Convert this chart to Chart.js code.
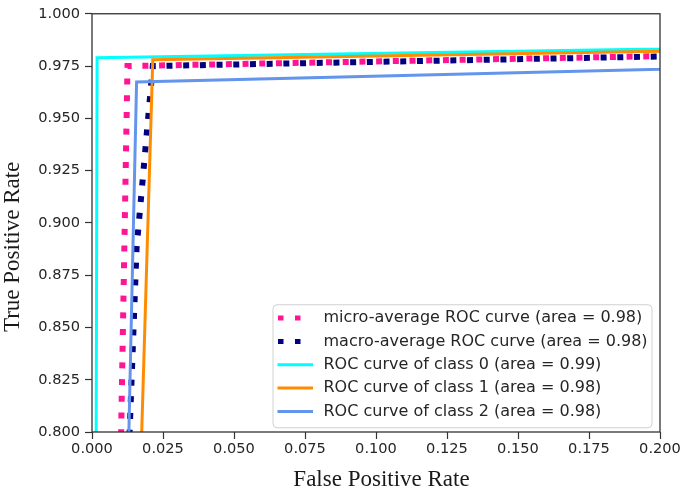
<!DOCTYPE html>
<html>
<head>
<meta charset="utf-8">
<script src="https://cdn.jsdelivr.net/npm/chart.js@4.4.1/dist/chart.umd.min.js"></script>
<style>
  html, body { margin: 0; padding: 0; background: #ffffff; }
  #wrap { width: 685px; height: 494px; }
</style>
</head>
<body>
<div id="wrap"><canvas id="c" width="685" height="494"></canvas></div>
<script>
// ---- data ----
const seriesLabels = [
  'micro-average ROC curve (area = 0.98)',
  'macro-average ROC curve (area = 0.98)',
  'ROC curve of class 0 (area = 0.99)',
  'ROC curve of class 1 (area = 0.98)',
  'ROC curve of class 2 (area = 0.98)'
];
const microFpr  = [0, 0.0125, 1];
const microTpr  = [0, 0.975, 1];
const macroFpr  = [0, 0.0018, 0.0157, 0.0214, 1];
const macroTpr  = [0, 0.391, 0.888, 0.975, 1];
const class0Fpr = [0, 0.0018, 1];
const class0Tpr = [0, 0.979, 1];
const class1Fpr = [0, 0.0214, 1];
const class1Tpr = [0, 0.978, 1];
const class2Fpr = [0, 0.0157, 1];
const class2Tpr = [0, 0.9674, 1];

const xTickValues = [0, 0.025, 0.05, 0.075, 0.1, 0.125, 0.15, 0.175, 0.2];
const xTickLabels = ['0.000', '0.025', '0.050', '0.075', '0.100', '0.125', '0.150', '0.175', '0.200'];
const yTickValues = [0.8, 0.825, 0.85, 0.875, 0.9, 0.925, 0.95, 0.975, 1.0];
const yTickLabels = ['0.800', '0.825', '0.850', '0.875', '0.900', '0.925', '0.950', '0.975', '1.000'];
const xTitle = 'False Positive Rate';
const yTitle = 'True Positive Rate';

// ---- build library structures ----
function pts(xs, ys) { return xs.map((x, i) => ({ x: x, y: ys[i] })); }

const DOT = [6, 10.7];
const datasets = [
  { label: seriesLabels[0], data: pts(microFpr, microTpr), borderColor: '#FF1493', borderWidth: 6, borderDash: DOT, order: 5 },
  { label: seriesLabels[1], data: pts(macroFpr, macroTpr), borderColor: '#000080', borderWidth: 6, borderDash: DOT, order: 4 },
  { label: seriesLabels[2], data: pts(class0Fpr, class0Tpr), borderColor: '#00FFFF', borderWidth: 3, order: 3 },
  { label: seriesLabels[3], data: pts(class1Fpr, class1Tpr), borderColor: '#FF8C00', borderWidth: 3, order: 2 },
  { label: seriesLabels[4], data: pts(class2Fpr, class2Tpr), borderColor: '#6495ED', borderWidth: 3, order: 1 }
].map(d => Object.assign({
  pointRadius: 0, pointHoverRadius: 0, tension: 0, fill: false, clip: 0,
  borderCapStyle: 'butt', borderJoinStyle: 'miter'
}, d));

const AXIS_COLOR = '#333333';
const TEXT_COLOR = '#262626';

const framePlugin = {
  id: 'frameAndLegend',
  afterDatasetsDraw(chart) {
    const ctx = chart.ctx;
    const a = chart.chartArea;
    ctx.save();
    // frame (all four spines)
    ctx.strokeStyle = AXIS_COLOR;
    ctx.lineWidth = 1.3;
    ctx.strokeRect(a.left, a.top, a.right - a.left, a.bottom - a.top);

    // legend box
    const bx = a.left + 181, by = a.top + 291, bw = 379, bh = 123, r = 4;
    ctx.beginPath();
    ctx.moveTo(bx + r, by);
    ctx.lineTo(bx + bw - r, by);
    ctx.arcTo(bx + bw, by, bx + bw, by + r, r);
    ctx.lineTo(bx + bw, by + bh - r);
    ctx.arcTo(bx + bw, by + bh, bx + bw - r, by + bh, r);
    ctx.lineTo(bx + r, by + bh);
    ctx.arcTo(bx, by + bh, bx, by + bh - r, r);
    ctx.lineTo(bx, by + r);
    ctx.arcTo(bx, by, bx + r, by, r);
    ctx.closePath();
    ctx.fillStyle = 'rgba(255,255,255,0.85)';
    ctx.fill();
    ctx.strokeStyle = '#d0d0d0';
    ctx.lineWidth = 1;
    ctx.stroke();

    const items = chart.data.datasets;
    items.forEach((ds, i) => {
      const cy = by + 13.3 + i * 23.35;
      ctx.beginPath();
      ctx.strokeStyle = ds.borderColor;
      if (ds.borderDash) {
        ctx.lineWidth = 5;
        ctx.setLineDash([5.5, 11.5]);
        ctx.moveTo(bx + 5, cy);
        ctx.lineTo(bx + 30, cy);
      } else {
        ctx.lineWidth = ds.borderWidth;
        ctx.setLineDash([]);
        ctx.moveTo(bx + 4.5, cy);
        ctx.lineTo(bx + 40, cy);
      }
      ctx.lineCap = 'butt';
      ctx.stroke();
      ctx.setLineDash([]);
      ctx.fillStyle = TEXT_COLOR;
      ctx.font = '16px "DejaVu Sans"';
      ctx.textAlign = 'left';
      ctx.textBaseline = 'middle';
      ctx.fillText(ds.label, bx + 50.5, cy);
    });
    ctx.restore();
  },
  afterDraw(chart) {
    const ctx = chart.ctx;
    const a = chart.chartArea;
    ctx.save();
    ctx.fillStyle = '#1a1a1a';
    ctx.font = '23px "Liberation Serif"';
    ctx.textAlign = 'center';
    ctx.textBaseline = 'middle';
    ctx.fillText(xTitle, (a.left + a.right) / 2 + 5.5, a.bottom + 48);
    ctx.translate(13, (a.top + a.bottom) / 2 + 24);
    ctx.rotate(-Math.PI / 2);
    ctx.fillText(yTitle, 0, 0);
    ctx.restore();
  }
};

new Chart(document.getElementById('c'), {
  type: 'line',
  data: { datasets: datasets },
  plugins: [framePlugin],
  options: {
    responsive: false,
    devicePixelRatio: 1,
    animation: false,
    events: [],
    layout: { padding: { top: 9, right: 25, left: 0, bottom: 0 } },
    plugins: { legend: { display: false }, tooltip: { enabled: false } },
    scales: {
      x: {
        type: 'linear', min: 0, max: 0.2,
        afterFit: s => { s.height = 62; },
        afterBuildTicks: s => { s.ticks = xTickValues.map(v => ({ value: v })); },
        border: { display: false },
        grid: { drawOnChartArea: false, drawTicks: true, tickLength: 7, color: AXIS_COLOR, tickWidth: 1.2 },
        ticks: {
          autoSkip: false, maxRotation: 0, padding: 1,
          color: TEXT_COLOR, font: { family: 'DejaVu Sans', size: 14.6 },
          callback: (v, i) => xTickLabels[i]
        }
      },
      y: {
        type: 'linear', min: 0.8, max: 1.0,
        afterFit: s => { s.width = 92; },
        afterBuildTicks: s => { s.ticks = yTickValues.map(v => ({ value: v })); },
        border: { display: false },
        grid: { drawOnChartArea: false, drawTicks: true, tickLength: 7, color: AXIS_COLOR, tickWidth: 1.2 },
        ticks: {
          autoSkip: false, padding: 5,
          color: TEXT_COLOR, font: { family: 'DejaVu Sans', size: 14.6 },
          callback: (v, i) => yTickLabels[i]
        }
      }
    }
  }
});
</script>
</body>
</html>
